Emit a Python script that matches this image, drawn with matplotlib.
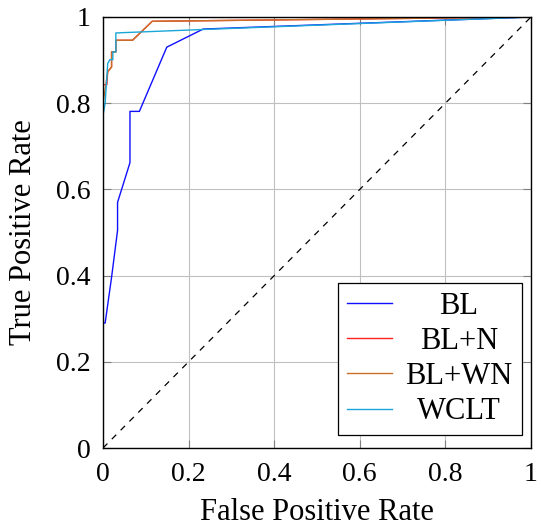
import matplotlib
matplotlib.use("Agg")
import matplotlib.pyplot as plt

plt.rcParams["font.family"] = ["Liberation Serif", "DejaVu Serif"]
plt.rcParams["mathtext.fontset"] = "stix"

# ROC curves
bl_fpr = [0.0, 0.0, 0.005, 0.02, 0.034, 0.034, 0.063, 0.063, 0.085, 0.149, 0.234, 1.0]
bl_tpr = [0.0, 0.29, 0.29, 0.396, 0.505, 0.57, 0.662, 0.781, 0.781, 0.93, 0.972, 1.0]

bln_fpr = [0.0, 0.0, 0.009, 0.011, 0.02, 0.02, 0.03, 0.03, 0.069, 0.115, 1.0]
bln_tpr = [0.0, 0.843, 0.843, 0.873, 0.884, 0.919, 0.919, 0.946, 0.946, 0.99, 1.0]

blwn_fpr = [0.0, 0.0, 0.011, 0.02, 0.02, 0.03, 0.03, 0.069, 0.115, 1.0]
blwn_tpr = [0.0, 0.80, 0.873, 0.884, 0.919, 0.919, 0.946, 0.946, 0.99, 1.0]

wclt_fpr = [0.0, 0.0, 0.005, 0.011, 0.016, 0.023, 0.023, 0.03, 0.03, 0.234, 1.0]
wclt_tpr = [0.0, 0.772, 0.80, 0.892, 0.901, 0.901, 0.919, 0.919, 0.963, 0.971, 1.0]

fig = plt.figure(figsize=(5.41, 5.31), dpi=100)
ax = fig.add_axes([0.1904, 0.1563, 0.7911, 0.8117])

ax.plot([0, 1], [0, 1], "k--", lw=0.9, dashes=(5, 5))
ax.plot(bl_fpr, bl_tpr, color="#1010ff", lw=1.0, label="BL")
ax.plot(bln_fpr, bln_tpr, color="#ff2020", lw=1.0, label="BL+N")
ax.plot(blwn_fpr, blwn_tpr, color="#c8702a", lw=1.0, label="BL+WN")
ax.plot(wclt_fpr, wclt_tpr, color="#1aa6d8", lw=1.0, label="WCLT")

ax.set_xlim(0, 1)
ax.set_ylim(0, 1)
ticks = [0, 0.2, 0.4, 0.6, 0.8, 1]
labels = ["0", "0.2", "0.4", "0.6", "0.8", "1"]
ax.set_xticks(ticks)
ax.set_xticklabels(labels)
ax.set_yticks(ticks)
ax.set_yticklabels(labels)
ax.grid(True, color="#c0c0c0", lw=0.8)
ax.tick_params(direction="in", length=6, color="#808080", labelsize=20,
               top=True, right=True)
ax.tick_params(axis="x", pad=10)
ax.tick_params(axis="y", pad=9)
for s in ax.spines.values():
    s.set_linewidth(1.0)

ax.set_xlabel("False Positive Rate", fontsize=22, labelpad=8)
ax.set_ylabel("True Positive Rate", fontsize=22, labelpad=13)

leg = ax.legend(loc="lower right", bbox_to_anchor=(1, 0.008), fontsize=22,
                fancybox=False, edgecolor="black", framealpha=1,
                handlelength=1.45, borderpad=0.3, labelspacing=0.2,
                handletextpad=0.45, borderaxespad=0.3)
leg.get_frame().set_linewidth(0.9)

# center legend labels in their column, as in the original
fig.canvas.draw()
r = fig.canvas.get_renderer()
texts = leg.get_texts()
boxes = [t.get_window_extent(r) for t in texts]
cx = (min(b.x0 for b in boxes) + max(b.x1 for b in boxes)) / 2
for t, b in zip(texts, boxes):
    x, y = fig.transFigure.inverted().transform((cx, b.y0))
    fig.text(x, y, t.get_text(), fontsize=22, ha="center", va="bottom",
             zorder=10)
    t.set_alpha(0)

fig.savefig("out.png", dpi=100)
